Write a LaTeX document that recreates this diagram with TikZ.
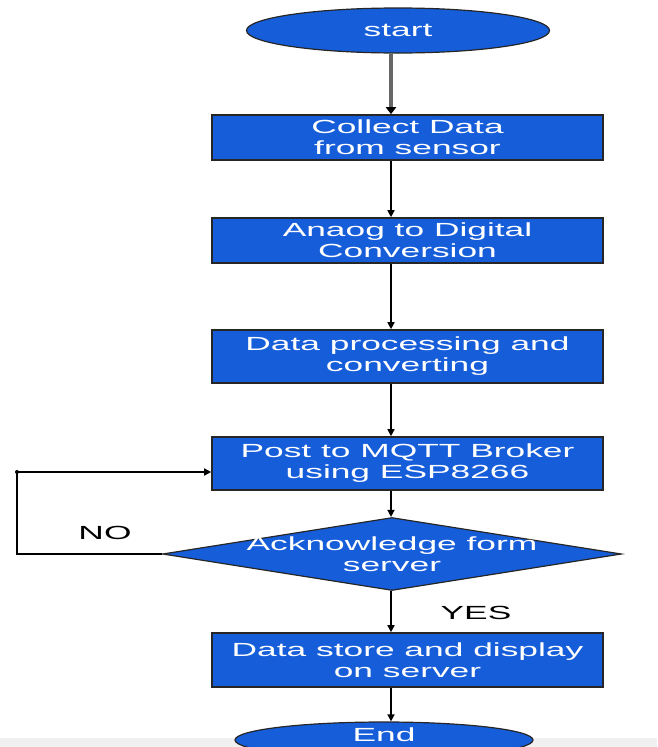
\documentclass[tikz,border=0pt]{standalone}
\usepackage{fontspec}
\setmainfont[FakeStretch=1.86]{Liberation Sans}
\usetikzlibrary{shapes.geometric,arrows.meta}

\definecolor{flowblue}{RGB}{22,93,218}

\tikzset{
	stepbox/.style={draw=black!85, line width=1.6pt, fill=flowblue, text=white,
		minimum width=391pt, align=center, inner sep=0pt},
	terminal/.style={ellipse, draw=black!85, line width=1.2pt, fill=flowblue, text=white, inner sep=0pt},
	decision/.style={diamond, draw=black!85, line width=1.2pt, fill=flowblue,
		minimum width=459pt, minimum height=73pt, inner sep=0pt},
	txt/.style={text=white, align=center},
	arr/.style={-{Triangle[length=7pt,width=7pt]}, line width=1.5pt},
}

\begin{document}
\begin{tikzpicture}[x=1pt,y=-1pt,font=\fontsize{19}{21}\selectfont]
			\useasboundingbox (0,0) rectangle (657,747);
			\fill[black!6] (0,738) rectangle (657,747);

			\node[terminal, minimum width=303pt, minimum height=45pt] (start) at (398,30.5) {start};
			\node[stepbox, minimum height=45pt] (collect) at (407.5,137.5) {Collect Data\\from sensor};
			\node[stepbox, minimum height=45pt] (adc) at (407.5,240.5) {Anaog to Digital\\Conversion};
			\node[stepbox, minimum height=53pt] (process) at (407.5,356.5) {Data processing and\\converting};
			\node[stepbox, minimum height=53pt] (post) at (407.5,463.5) {Post to MQTT Broker\\using ESP8266};
			\node[decision] (ack) at (392,554) {};
			\node[txt] (acktext) at (ack) {Acknowledge form\\server};
			\node[stepbox, minimum height=54pt] (store) at (407.5,660) {Data store and display\\on server};
			\node[terminal, minimum width=298pt, minimum height=36pt] (end) at (384,740) {};
			\node[txt] (endtext) at (384,735) {End};

			\coordinate (spine) at (391,0);
			\coordinate (loop) at (17,472);

			\draw[line width=4pt, draw=black!60, -{Triangle[length=7pt,width=10pt,black]}]
				(start.south -| spine) -- (collect.north -| spine);
			\draw[arr] (collect.south -| spine) -- (adc.north -| spine);
			\draw[arr] (adc.south -| spine) -- (process.north -| spine);
			\draw[arr] (process.south -| spine) -- (post.north -| spine);
			\draw[arr] (post.south -| spine) -- (ack.north -| spine);
			\draw[arr] (ack.south -| spine) -- (store.north -| spine);
			\draw[arr] (store.south -| spine) -- (end.north -| spine);

			% NO branch back to the broker step
			\draw[line width=1.5pt] (ack.west) -| (loop);
			\draw[arr] (loop) -- (post.west |- loop);
			\fill (loop) circle (2pt);

			\node (no) at (105,533) {NO};
			\node (yes) at (476,613) {YES};
\end{tikzpicture}
\end{document}
